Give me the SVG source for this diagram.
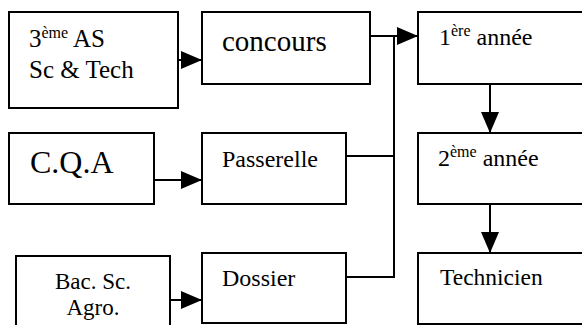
<svg xmlns="http://www.w3.org/2000/svg" width="582" height="325" viewBox="0 0 582 325">
<style>
.box{fill:#fff;stroke:#000;stroke-width:2}
.t{font-family:"Liberation Serif","Times New Roman",serif;font-size:24px;fill:#000}
.sup{font-size:16px}
.ln{fill:none;stroke:#000;stroke-width:2}
.ar{marker-end:url(#arrow)}
</style>
<defs>
<marker id="arrow" markerUnits="userSpaceOnUse" markerWidth="22" markerHeight="20" refX="21" refY="9" orient="auto" viewBox="0 0 22 20">
<path d="M0,0 L21,9 L0,18 Z" fill="#000"/>
</marker>
</defs>
<rect width="582" height="325" fill="#fff"/>
<g id="n_3emeAS">
<rect class="box" x="9" y="12" width="169" height="96"/>
<text class="t" x="29" y="47" style="font-size:25px">3<tspan class="sup" y="38">ème</tspan><tspan y="47"> AS</tspan></text>
<text class="t" x="29" y="78" style="font-size:25px">Sc &amp; Tech</text>
</g>
<g id="n_concours">
<rect class="box" x="202" y="12" width="168" height="72"/>
<text class="t" x="222" y="51" style="font-size:29px">concours</text>
</g>
<g id="n_1ere">
<rect class="box" x="418" y="12" width="172" height="72"/>
<text class="t" x="439" y="45">1<tspan class="sup" y="36">ère</tspan><tspan y="45"> année</tspan></text>
</g>
<g id="n_CQA">
<rect class="box" x="9" y="133" width="145" height="71"/>
<text class="t" x="30" y="173" style="font-size:32px">C.Q.A</text>
</g>
<g id="n_passerelle">
<rect class="box" x="202" y="133" width="144" height="71"/>
<text class="t" x="222" y="167">Passerelle</text>
</g>
<g id="n_2eme">
<rect class="box" x="418" y="133" width="172" height="71"/>
<text class="t" x="438" y="166">2<tspan class="sup" y="157">ème</tspan><tspan y="166"> année</tspan></text>
</g>
<g id="n_bac">
<rect class="box" x="16" y="256" width="154" height="75"/>
<text class="t" x="93" y="289" text-anchor="middle" style="font-size:23px">Bac. Sc.</text>
<text class="t" x="93" y="315" text-anchor="middle" style="font-size:23px">Agro.</text>
</g>
<g id="n_dossier">
<rect class="box" x="202" y="253" width="144" height="70"/>
<text class="t" x="222" y="286">Dossier</text>
</g>
<g id="n_technicien">
<rect class="box" x="418" y="253" width="172" height="71"/>
<text class="t" x="440" y="285" style="font-size:23.5px">Technicien</text>
</g>
<g id="connectors">
<line class="ln ar" x1="178" y1="60" x2="202" y2="60"/>
<line class="ln ar" x1="154" y1="180" x2="202" y2="180"/>
<line class="ln ar" x1="170" y1="300" x2="202" y2="300"/>
<line class="ln ar" x1="370" y1="36" x2="418" y2="36"/>
<polyline class="ln" points="394,36 394,277 346,277"/>
<line class="ln" x1="346" y1="156" x2="394" y2="156"/>
<line class="ln ar" x1="490" y1="84" x2="490" y2="133"/>
<line class="ln ar" x1="490" y1="204" x2="490" y2="253"/>
</g>
</svg>
